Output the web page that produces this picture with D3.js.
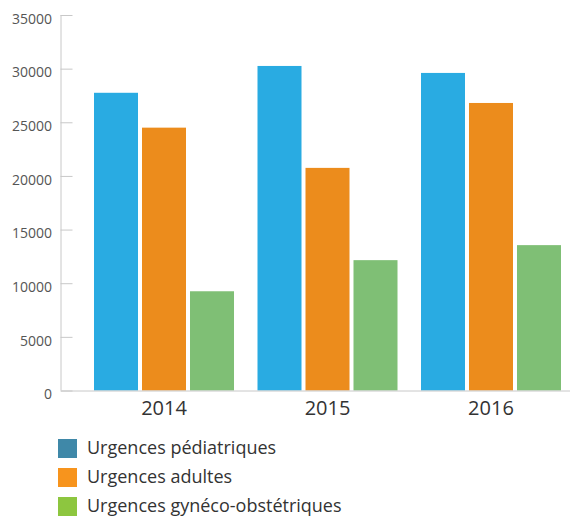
<!DOCTYPE html>
<html>
<head>
<meta charset="utf-8">
<script src="https://cdn.jsdelivr.net/npm/d3@7"></script>
<style>
  body { margin: 0; background: #fff; }
  svg { display: block; font-family: "Open Sans", sans-serif; }
</style>
</head>
<body>
<div id="chart"></div>
<script>
const years = ["2014", "2015", "2016"];
const series = ["Urgences pédiatriques", "Urgences adultes", "Urgences gynéco-obstétriques"];
const pediatriques = [27750, 30250, 29600];
const adultes = [24500, 20750, 26800];
const gyneco = [9250, 12150, 13550];
const yTicks = [0, 5000, 10000, 15000, 20000, 25000, 30000, 35000];

const barColors = ["#29abe2", "#ec8c1c", "#7fbf75"];
const legendColors = ["#3f88a8", "#f7941d", "#8dc63f"];

const values = [pediatriques, adultes, gyneco];
const rows = years.map((yr, i) => ({
  year: yr,
  vals: series.map((s, j) => ({ key: s, value: values[j][i], idx: j }))
}));

const width = 570, height = 516;
const svg = d3.select("#chart").append("svg")
  .attr("width", width)
  .attr("height", height);

const x0 = d3.scaleBand()
  .domain(years)
  .range([82.25, 572.75])
  .paddingInner(0.1437)
  .paddingOuter(0.0719);

const x1 = d3.scaleBand()
  .domain(series)
  .range([0, x0.bandwidth()])
  .paddingInner(4 / 48);

const y = d3.scaleLinear()
  .domain([0, 35000])
  .range([390.5, 15]);

// y axis
const yAxis = svg.append("g")
  .attr("transform", "translate(60.5,0)")
  .call(d3.axisRight(y).tickValues(yTicks).tickSize(12).tickFormat(""));
yAxis.select(".domain").attr("stroke", "#c8c8c8").attr("d", `M0.5,${y(35000)}V${y(0)}`);
yAxis.selectAll(".tick line").attr("stroke", "#c8c8c8");

svg.append("g").selectAll("text")
  .data(yTicks)
  .enter().append("text")
  .attr("x", 52)
  .attr("y", (d) => y(d) + 5)
  .attr("text-anchor", "end")
  .attr("dominant-baseline", "middle")
  .attr("fill", "#555")
  .style("font-size", "14px")
  .text((d) => d);

// bars
const groups = svg.append("g").selectAll("g")
  .data(rows)
  .enter().append("g")
  .attr("transform", (d) => `translate(${x0(d.year)},0)`);

groups.selectAll("rect")
  .data((d) => d.vals)
  .enter().append("rect")
  .attr("x", (d) => x1(d.key))
  .attr("y", (d) => y(d.value))
  .attr("width", x1.bandwidth())
  .attr("height", (d) => y(0) - y(d.value))
  .attr("fill", (d) => barColors[d.idx]);

// x axis
svg.append("line")
  .attr("x1", 61).attr("x2", width)
  .attr("y1", y(0) + 0.5).attr("y2", y(0) + 0.5)
  .attr("stroke", "#c8c8c8");

svg.append("g").selectAll("text")
  .data(years)
  .enter().append("text")
  .attr("x", (d) => x0(d) + x0.bandwidth() / 2)
  .attr("y", 415)
  .attr("text-anchor", "middle")
  .attr("fill", "#333")
  .style("font-size", "20px")
  .text((d) => d);

// legend
const legend = svg.append("g").selectAll("g")
  .data(series)
  .enter().append("g")
  .attr("transform", (d, i) => `translate(58,${439 + i * 29})`);

legend.append("rect")
  .attr("width", 19)
  .attr("height", 19)
  .attr("fill", (d, i) => legendColors[i]);

legend.append("text")
  .attr("x", 29)
  .attr("y", 15)
  .attr("fill", "#333")
  .style("font-size", "18px")
  .text((d) => d);
</script>
</body>
</html>
